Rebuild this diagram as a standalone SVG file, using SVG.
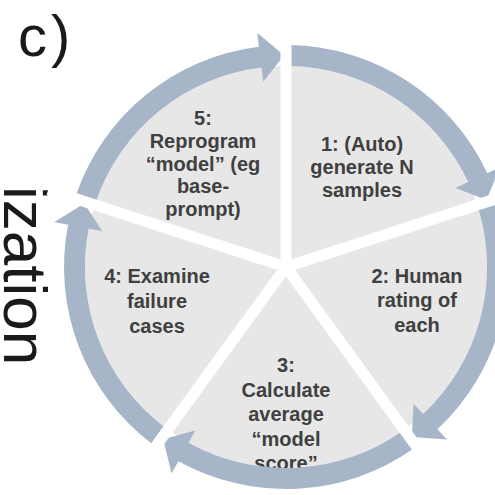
<svg xmlns="http://www.w3.org/2000/svg" width="495" height="495" viewBox="0 0 495 495">
<style>
.wedge{fill:#e7e7e7}
.lbl{font-family:"Liberation Sans",Arial,sans-serif;font-weight:bold;font-size:20px;fill:#404040;text-anchor:middle}
.arc{fill:#a6b6c8}
.gap{stroke:#ffffff;stroke-width:11;fill:none}
.big{font-family:"Liberation Sans",Arial,sans-serif;fill:#1a1a1a}
</style>
<rect width="495" height="495" fill="#ffffff"/>
<text class="big" x="18" y="56" font-size="58" letter-spacing="4">c)</text>
<text class="big" font-size="62" transform="translate(4,186) rotate(90)">ization</text>
<g id="node1">
<path class="wedge" d="M286,267 L286,66 A201,201 0 0 1 477.16,204.89 Z"/>
<text class="lbl" x="362" y="151">1: (Auto)</text>
<text class="lbl" x="362" y="174">generate N</text>
<text class="lbl" x="362" y="197">samples</text>
</g>
<g id="node2">
<path class="wedge" d="M286,267 L477.16,204.89 A201,201 0 0 1 404.15,429.61 Z"/>
<text class="lbl" x="417" y="283">2: Human</text>
<text class="lbl" x="417" y="307">rating of</text>
<text class="lbl" x="417" y="332">each</text>
</g>
<g id="node3">
<path class="wedge" d="M286,267 L404.15,429.61 A201,201 0 0 1 167.85,429.61 Z"/>
<text class="lbl" x="286" y="372">3:</text>
<text class="lbl" x="286" y="397">Calculate</text>
<text class="lbl" x="286" y="421">average</text>
<text class="lbl" x="286" y="446">“model</text>
<text class="lbl" x="286" y="470">score”</text>
</g>
<g id="node4">
<path class="wedge" d="M286,267 L167.85,429.61 A201,201 0 0 1 94.84,204.89 Z"/>
<text class="lbl" x="157" y="283">4: Examine</text>
<text class="lbl" x="157" y="308">failure</text>
<text class="lbl" x="157" y="333">cases</text>
</g>
<g id="node5">
<path class="wedge" d="M286,267 L94.84,204.89 A201,201 0 0 1 286,66 Z"/>
<text class="lbl" x="203" y="125">5:</text>
<text class="lbl" x="203" y="148">Reprogram</text>
<text class="lbl" x="203" y="170.5">“model” (eg</text>
<text class="lbl" x="203" y="193">base-</text>
<text class="lbl" x="203" y="215.5">prompt)</text>
</g>
<g id="connectors">
<path class="arc" d="M289.87,45.03 A222,222 0 0 1 487.20,173.18 L499.89,167.26 L486.57,199.89 L455.48,187.97 L468.17,182.05 A201,201 0 0 0 289.51,66.03 Z"/>
<path class="arc" d="M498.30,202.09 A222,222 0 0 1 437.40,429.36 L446.95,439.60 L411.80,437.02 L413.53,403.76 L423.08,414.00 A201,201 0 0 0 478.22,208.23 Z"/>
<path class="arc" d="M413.33,448.85 A222,222 0 0 1 178.37,461.17 L171.58,473.41 L163.18,439.19 L195.34,430.55 L188.55,442.80 A201,201 0 0 0 401.29,431.65 Z"/>
<path class="arc" d="M152.40,444.30 A222,222 0 0 1 68.08,224.64 L54.34,221.97 L84.29,203.40 L102.44,231.32 L88.69,228.65 A201,201 0 0 0 165.03,427.53 Z"/>
<path class="arc" d="M76.09,194.72 A222,222 0 0 1 258.94,46.65 L257.24,32.76 L284.15,55.51 L263.21,81.39 L261.50,67.50 A201,201 0 0 0 95.95,201.56 Z"/>
</g>
<g id="gaps">
<path class="gap" d="M286,267 L286,17 M286,267 L523.76,189.75 M286,267 L432.95,469.25 M286,267 L139.05,469.25 M286,267 L48.24,189.75"/>
</g>
</svg>
